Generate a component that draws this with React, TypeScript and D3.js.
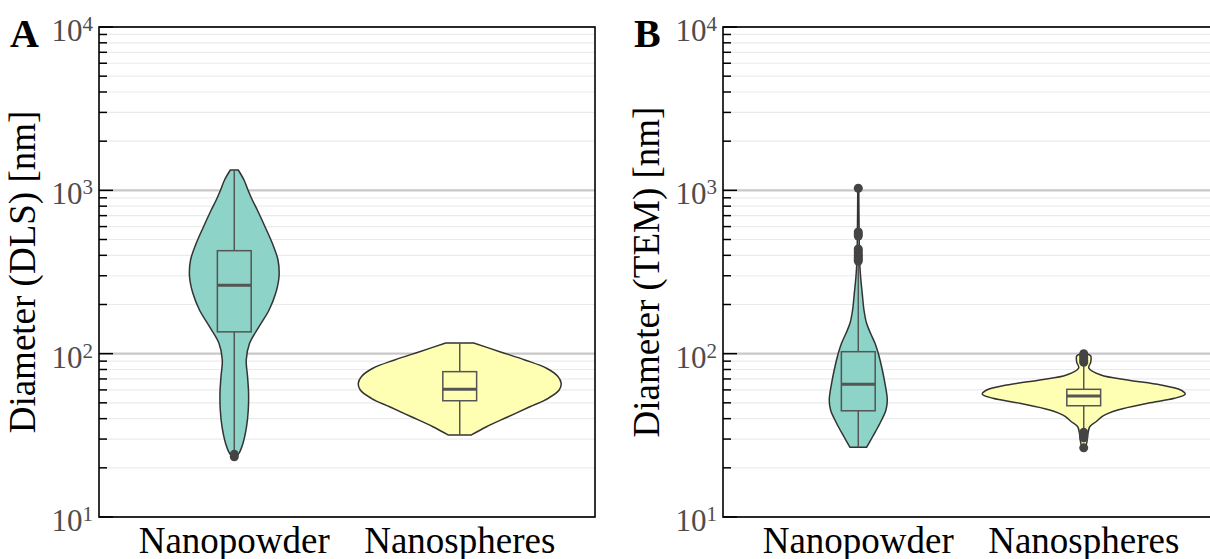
import React from "react";
import * as d3 from "d3";

// categories and axis ticks
const categories = ["Nanopowder", "Nanospheres"];
const majorTicks = [10, 100, 1000, 10000];
const tickExponents = ["1", "2", "3", "4"];
const minorSteps = [2, 3, 4, 5, 6, 7, 8, 9];

// violin profiles: diameter [nm] and relative density
const dlsPowderSize = [23.4, 24.5, 28.3, 35.7, 45.2, 57.2, 72.3, 91.5, 115.7, 146.3, 185.1, 234.2, 296, 374.5, 474, 598.9, 757.8, 872.5, 1005, 1157, 1332];
const dlsPowderDens = [0.015, 0.046, 0.086, 0.121, 0.138, 0.141, 0.131, 0.118, 0.151, 0.244, 0.343, 0.408, 0.441, 0.431, 0.375, 0.303, 0.227, 0.178, 0.135, 0.096, 0.039];
const dlsSphereSize = [31.8, 35.7, 41.1, 47.3, 53.3, 59.9, 65.8, 72.3, 81.4, 91.5, 102.8, 116.2];
const dlsSphereDens = [0.115, 0.264, 0.477, 0.691, 0.872, 0.98, 1.0, 0.97, 0.856, 0.642, 0.395, 0.138];
const temPowderSize = [26.7, 31.0, 37.5, 45.2, 52.0, 65.8, 83.2, 100.5, 115.7, 133.3, 153.4, 185.1, 234.2, 296, 374.5, 599, 794, 1029];
const temPowderDens = [0.082, 0.141, 0.214, 0.273, 0.286, 0.263, 0.23, 0.197, 0.165, 0.121, 0.082, 0.056, 0.039, 0.023, 0.013, 0.008, 0.006, 0.005];
const temSphereSize = [26.5, 28.5, 31.8, 35.7, 38.3, 41.5, 45.2, 49.7, 53.3, 56.6, 59.9, 64.3, 69.0, 74.0, 81.7, 88.9, 96.8, 100];
const temSphereDens = [0.015, 0.03, 0.04, 0.059, 0.121, 0.187, 0.335, 0.631, 0.894, 1.0, 0.956, 0.759, 0.433, 0.17, 0.05, 0.069, 0.069, 0.03];

// box plot stats: [lower whisker, q1, median, q3, upper whisker]
const dlsPowderBox = [25.5, 136, 262, 427, 1332];
const dlsSphereBox = [31.8, 51.5, 60.5, 77.6, 116.2];
const temPowderBox = [26.7, 44.7, 64.9, 102.8, 355];
const temSphereBox = [34, 48, 55.1, 60.5, 85.7];

const dlsPowderOut = [24.2, 23.4];
const dlsSphereOut: number[] = [];
const temPowderOut = [1029, 556, 540, 525, 437, 425, 413, 400, 390, 379, 369];
const temSphereOut = [100, 97, 94, 91, 88.5, 33, 32, 31.2, 30.5, 26.5];

const fills = ["#8DD3C7", "#FFFFB3"];

const W = 1210;
const H = 559;
const left = 99, right = 595, top = 27, bottom = 517;
const font = "'Liberation Serif', 'Times New Roman', serif";

type Group = { size: number[]; dens: number[]; box: number[]; out: number[] };

function Panel({ dx, letter, title, groups }: { dx: number; letter: string; title: string; groups: Group[] }) {
  const x = d3.scalePoint<string>().domain(categories).range([left, right]).padding(0.6);
  const y = d3.scaleLog().domain([10, 10000]).range([bottom, top]);
  const step = x.step();
  const w = d3.scaleLinear().domain([0, 1]).range([0, step * 0.45]);
  const boxHalf = step * 0.075;

  const minor: number[] = [];
  majorTicks.slice(0, 3).forEach((m) => minorSteps.forEach((s) => minor.push(m * s)));

  return (
    <g transform={`translate(${dx},0)`}>
      {minor.map((v) => (
        <line key={"g" + v} x1={left} x2={right} y1={y(v)} y2={y(v)} stroke="#ebebeb" strokeWidth={1.2} />
      ))}
      {majorTicks.map((v) => (
        <line key={"G" + v} x1={left} x2={right} y1={y(v)} y2={y(v)} stroke="#c8c8c8" strokeWidth={2.2} />
      ))}
      {groups.map((g, i) => {
        const cx = x(categories[i])!;
        const pts = g.size.map((s, k) => ({ s, d: g.dens[k] }));
        const area = d3
          .area<{ s: number; d: number }>()
          .y((p) => y(p.s))
          .x0((p) => cx - w(p.d))
          .x1((p) => cx + w(p.d))
          .curve(d3.curveCatmullRom.alpha(0.5));
        const [lo, q1, med, q3, hi] = g.box;
        return (
          <g key={i}>
            <path d={area(pts)!} fill={fills[i]} stroke="#333333" strokeWidth={1.5} />
            <line x1={cx} x2={cx} y1={y(hi)} y2={y(q3)} stroke="#555555" strokeWidth={1.5} />
            <line x1={cx} x2={cx} y1={y(q1)} y2={y(lo)} stroke="#555555" strokeWidth={1.5} />
            <rect x={cx - boxHalf} width={boxHalf * 2} y={y(q3)} height={y(q1) - y(q3)} fill={fills[i]} stroke="#555555" strokeWidth={1.5} />
            <line x1={cx - boxHalf} x2={cx + boxHalf} y1={y(med)} y2={y(med)} stroke="#555555" strokeWidth={3} />
            {g.out.map((o, k) => (
              <circle key={k} cx={cx} cy={y(o)} r={4.5} fill="#444444" />
            ))}
          </g>
        );
      })}
      {minor.map((v) => (
        <line key={"t" + v} x1={left} x2={left + 8} y1={y(v)} y2={y(v)} stroke="#000" strokeWidth={1.5} />
      ))}
      {majorTicks.map((v) => (
        <line key={"T" + v} x1={left} x2={left + 14} y1={y(v)} y2={y(v)} stroke="#000" strokeWidth={1.5} />
      ))}
      <rect x={left} y={top} width={right - left} height={bottom - top} fill="none" stroke="#000" strokeWidth={1.6} />
      {majorTicks.map((v, k) => (
        <text key={"L" + v} x={93} y={y(v) + 14} textAnchor="end" fontSize={31} fill="#4d4d4d" fontFamily={font}>
          10
          <tspan dy={-10} fontSize={21}>{tickExponents[k]}</tspan>
        </text>
      ))}
      {categories.map((c) => (
        <text key={c} x={x(c)} y={553} textAnchor="middle" fontSize={37} fill="#000" fontFamily={font}>
          {c}
        </text>
      ))}
      <text transform={`translate(35,${(top + bottom) / 2}) rotate(-90)`} textAnchor="middle" fontSize={37} fill="#000" fontFamily={font}>
        {title}
      </text>
      <text x={10} y={47} fontSize={40} fontWeight="bold" fill="#000" fontFamily={font}>
        {letter}
      </text>
    </g>
  );
}

export default function App() {
  const dls: Group[] = [
    { size: dlsPowderSize, dens: dlsPowderDens, box: dlsPowderBox, out: dlsPowderOut },
    { size: dlsSphereSize, dens: dlsSphereDens, box: dlsSphereBox, out: dlsSphereOut },
  ];
  const tem: Group[] = [
    { size: temPowderSize, dens: temPowderDens, box: temPowderBox, out: temPowderOut },
    { size: temSphereSize, dens: temSphereDens, box: temSphereBox, out: temSphereOut },
  ];
  return (
    <svg width={W} height={H} style={{ position: "absolute", left: 0, top: 0, background: "#fff" }}>
      <rect width={W} height={H} fill="#fff" />
      <Panel dx={0} letter="A" title="Diameter (DLS) [nm]" groups={dls} />
      <Panel dx={624} letter="B" title="Diameter (TEM) [nm]" groups={tem} />
    </svg>
  );
}
